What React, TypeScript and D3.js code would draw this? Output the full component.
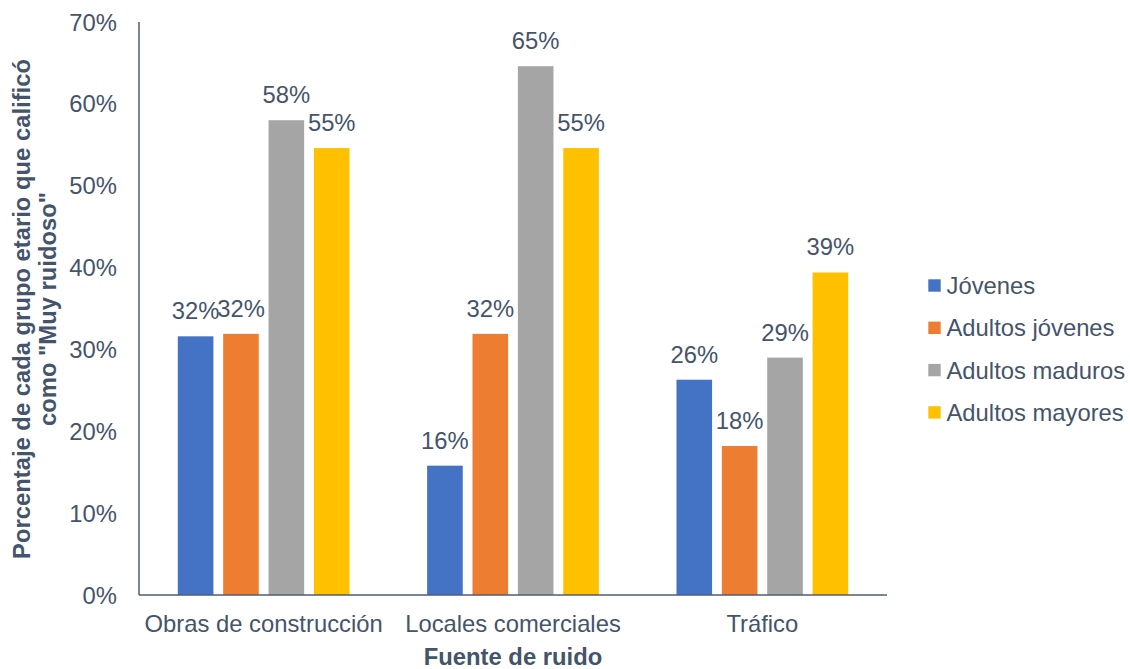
import React from "react";
import * as d3 from "d3";

const categories = ["Obras de construcción", "Locales comerciales", "Tráfico"];
const seriesNames = ["Jóvenes", "Adultos jóvenes", "Adultos maduros", "Adultos mayores"];
const colors = ["#4472C4", "#ED7D31", "#A5A5A5", "#FFC000"];
const jovenes = [0.316, 0.158, 0.263];
const adultosJovenes = [0.319, 0.319, 0.182];
const adultosMaduros = [0.58, 0.646, 0.29];
const adultosMayores = [0.546, 0.546, 0.394];
const yTicks = [0, 0.1, 0.2, 0.3, 0.4, 0.5, 0.6, 0.7];

const seriesValues = [jovenes, adultosJovenes, adultosMaduros, adultosMayores];

const W = 1130;
const H = 669;
const FONT = "'Liberation Sans', Arial, sans-serif";
const TEXT = "#44546A";
const AXIS = "#4f5d78";
const FS = 23.8;

export default function App() {
  const left = 139;
  const right = 887;
  const bottom = 595;
  const top = 22;
  const x0 = d3.scaleBand<string>().domain(categories).range([left, right]);
  const bw0 = x0.bandwidth();
  const outer = 38.8;
  const x1 = d3
    .scaleBand<string>()
    .domain(seriesNames)
    .range([outer, bw0 - outer])
    .paddingInner(0.215)
    .paddingOuter(0);
  const y = d3.scaleLinear().domain([0, 0.7]).range([bottom, top]);
  const fmt = d3.format(".0%");

  return (
    <svg
      width={W}
      height={H}
      style={{ position: "absolute", left: 0, top: 0, background: "#fff" }}
      fontFamily={FONT}
    >
      {yTicks.map((t) => (
        <text key={t} x={117} y={y(t)} dy="0.36em" textAnchor="end" fontSize={FS} fill={TEXT}>
          {fmt(t)}
        </text>
      ))}
      {categories.map((c, ci) => (
        <g key={c} transform={`translate(${x0(c)},0)`}>
          {seriesNames.map((s, si) => {
            const v = seriesValues[si][ci];
            const bx = x1(s)!;
            return (
              <g key={s}>
                <rect
                  x={bx}
                  y={y(v)}
                  width={x1.bandwidth()}
                  height={bottom - y(v)}
                  fill={colors[si]}
                />
                <text
                  x={bx + x1.bandwidth() / 2}
                  y={y(v) - 17}
                  textAnchor="middle"
                  fontSize={FS}
                  fill={TEXT}
                >
                  {fmt(v)}
                </text>
              </g>
            );
          })}
        </g>
      ))}
      <line x1={left} x2={left} y1={top} y2={bottom} stroke={AXIS} strokeWidth={1.5} />
      <line x1={left} x2={right} y1={bottom} y2={bottom} stroke={AXIS} strokeWidth={1.5} />
      {categories.map((c) => (
        <text key={c} x={x0(c)! + bw0 / 2} y={632} textAnchor="middle" fontSize={FS} fill={TEXT}>
          {c}
        </text>
      ))}
      <text x={513} y={665} textAnchor="middle" fontSize={FS} fontWeight="bold" fill={TEXT}>
        Fuente de ruido
      </text>
      <g transform="translate(0,309) rotate(-90)">
        <text x={0} y={30} textAnchor="middle" fontSize={FS} fontWeight="bold" fill={TEXT}>
          Porcentaje de cada grupo etario que calificó
        </text>
        <text x={0} y={56} textAnchor="middle" fontSize={FS} fontWeight="bold" fill={TEXT}>
          como "Muy ruidoso"
        </text>
      </g>
      {seriesNames.map((s, i) => {
        const cy = 285.5 + i * 42.3;
        return (
          <g key={s}>
            <rect x={928.3} y={cy - 6.2} width={12.4} height={12.4} fill={colors[i]} />
            <text x={946.5} y={cy} dy="0.36em" fontSize={FS} fill={TEXT}>
              {s}
            </text>
          </g>
        );
      })}
    </svg>
  );
}
